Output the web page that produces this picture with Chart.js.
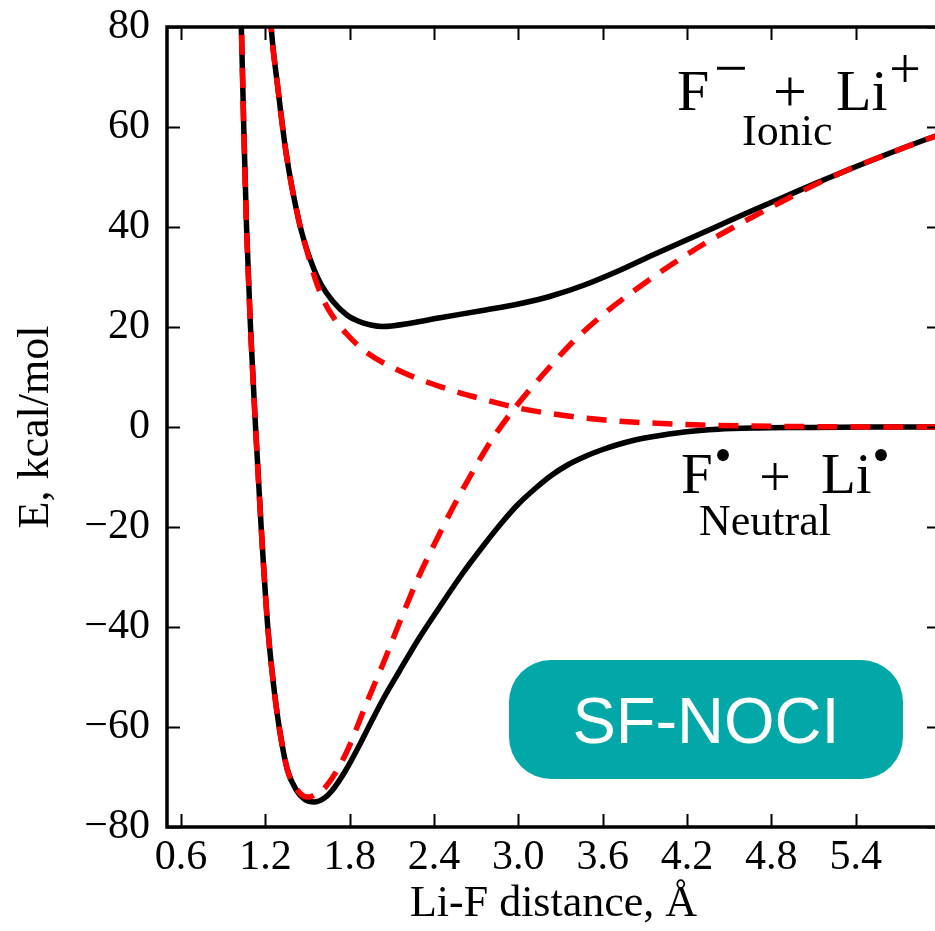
<!DOCTYPE html>
<html>
<head>
<meta charset="utf-8">
<script src="https://cdn.jsdelivr.net/npm/chart.js@4.4.1/dist/chart.umd.min.js"></script>
<style>
html,body{margin:0;padding:0;background:#fff;overflow:hidden;}
canvas{display:block;}
</style>
</head>
<body>
<canvas id="c" width="945" height="931"></canvas>
<script>
// ---- Data ----
// Adiabatic ground state (black, solid)
const rGround = [1.022,1.029,1.046,1.066,1.094,1.13,1.17,1.217,1.26,1.298,1.357,1.42,1.48,1.548,1.62,1.678,1.773,1.87,1.96,2.05,2.15,2.29,2.433,2.6,2.766,2.88,3.0,3.12,3.234,3.35,3.474,3.6,3.71,3.83,3.94,4.18,4.42,4.7,5.0,5.5,6.0];
const eGround = [85,80,60,40,20,0,-20,-40,-52,-60,-68.6,-72.6,-74.5,-75,-74.2,-72.6,-68.6,-63.6,-58.6,-53.8,-49,-42.4,-36.3,-29.4,-23.2,-19.2,-15.4,-12.3,-9.7,-7.6,-5.9,-4.5,-3.5,-2.6,-2,-1,-0.45,-0.2,-0.1,0,0];
// Adiabatic excited state (black, solid)
const rExcited = [1.235,1.241,1.288,1.348,1.437,1.489,1.548,1.595,1.678,1.78,1.867,1.95,2.03,2.24,2.433,2.766,3.0,3.234,3.47,3.71,3.94,4.18,4.42,4.65,4.89,5.12,5.36,5.6,5.88,6.0];
const eExcited = [83,80,68,54.7,41.4,36,31.4,28.6,25.2,22.4,21.1,20.4,20.1,20.8,21.8,23.4,24.6,26.2,28.4,31.2,34.2,37.2,40.2,43.1,46,48.8,51.6,54.3,57.3,58.5];
// Diabatic ionic state F- + Li+ (red, dashed)
const rIonic = [1.022,1.029,1.046,1.066,1.094,1.13,1.17,1.217,1.26,1.298,1.357,1.42,1.47,1.51,1.56,1.631,1.775,1.916,2.06,2.17,2.29,2.41,2.525,2.67,2.81,2.98,3.16,3.38,3.616,3.85,4.085,4.32,4.56,4.89,5.12,5.36,5.6,5.88,6.0];
const eIonic = [85,80,60,40,20,0,-20,-40,-52,-60,-68.6,-72.3,-73.8,-74,-73.4,-71.9,-65.2,-55.5,-45.8,-38,-30,-23,-16.6,-9.2,-2.6,4,10,16.8,22.8,27.8,32.4,36.6,40.4,45.3,48.6,51.6,54.3,57.3,58.5];
// Diabatic neutral state F. + Li. (red, dashed)
const rNeutral = [1.235,1.241,1.288,1.348,1.437,1.49,1.555,1.62,1.70,1.775,1.916,2.15,2.41,2.717,3.0,3.3,3.616,3.94,4.3,4.65,5.2,6.0];
const eNeutral = [83,80,68,54.7,41.4,35.8,29.6,25,21.3,18.7,15,11.3,8.4,5.8,3.8,2.4,1.4,0.8,0.4,0.2,0.05,0];

// Axis ticks
const xTickValues = [0.6,1.2,1.8,2.4,3.0,3.6,4.2,4.8,5.4];
const xTickLabels = ['0.6','1.2','1.8','2.4','3.0','3.6','4.2','4.8','5.4'];
const yTickValues = [-80,-60,-40,-20,0,20,40,60,80];
const yTickLabels = ['\u221280','\u221260','\u221240','\u221220','0','20','40','60','80'];

const toXY = (xs, ys) => xs.map((x, i) => ({x: x, y: ys[i]}));

const serif = '"Liberation Serif", "DejaVu Serif", serif';

const framePlugin = {
  id: 'frame',
  afterDatasetsDraw(chart) {
    const {ctx, chartArea: a, scales: {x, y}} = chart;
    ctx.save();
    ctx.strokeStyle = '#000';
    ctx.lineWidth = 2;
    const tl = 13;
    ctx.beginPath();
    xTickValues.forEach(v => {
      const px = Math.round(x.getPixelForValue(v)) + 0.5;
      ctx.moveTo(px, a.bottom); ctx.lineTo(px, a.bottom - tl);
      ctx.moveTo(px, a.top); ctx.lineTo(px, a.top + tl);
    });
    yTickValues.forEach(v => {
      const py = Math.round(y.getPixelForValue(v)) + 0.5;
      ctx.moveTo(a.left, py); ctx.lineTo(a.left + tl, py);
      ctx.moveTo(a.right, py); ctx.lineTo(a.right - tl, py);
    });
    ctx.stroke();
    ctx.lineWidth = 3.5;
    ctx.strokeRect(a.left, a.top, a.right - a.left, a.bottom - a.top);

    // Annotations
    ctx.fillStyle = '#000';
    ctx.textBaseline = 'alphabetic';
    ctx.textAlign = 'left';
    ctx.font = '58px ' + serif;
    ctx.fillText('F', 677, 110);
    ctx.fillText('Li', 836, 110);
    ctx.textAlign = 'center';
    ctx.font = '60px ' + serif;
    ctx.fillText('\u2212', 731, 88);
    ctx.fillText('+', 790, 111);
    ctx.font = '56px ' + serif;
    ctx.fillText('+', 905, 88);
    ctx.textAlign = 'left';
    ctx.font = '44px ' + serif;
    ctx.fillText('Ionic', 742, 145);

    ctx.font = '57px ' + serif;
    ctx.fillText('F', 681, 493);
    ctx.fillText('Li', 821, 493);
    ctx.textAlign = 'center';
    ctx.font = '56px ' + serif;
    ctx.fillText('+', 775, 496);
    ctx.font = '50px ' + serif;
    ctx.textBaseline = 'middle';
    ctx.fillText('\u2022', 723, 459);
    ctx.fillText('\u2022', 881, 459);
    ctx.textBaseline = 'alphabetic';
    ctx.textAlign = 'left';
    ctx.font = '44px ' + serif;
    ctx.fillText('Neutral', 699, 535);

    // SF-NOCI badge
    ctx.fillStyle = '#02A8A8';
    ctx.beginPath();
    ctx.roundRect(509, 660, 394, 119, 42);
    ctx.fill();
    ctx.fillStyle = '#fff';
    ctx.textAlign = 'center';
    ctx.textBaseline = 'alphabetic';
    ctx.font = '65px "Liberation Sans", Arial, sans-serif';
    ctx.fillText('SF-NOCI', 706, 743);
    ctx.restore();
  }
};

const lineBase = {
  pointRadius: 0,
  pointHoverRadius: 0,
  fill: false,
  borderWidth: 5.5,
  cubicInterpolationMode: 'monotone',
  borderCapStyle: 'butt',
  borderJoinStyle: 'round'
};

new Chart(document.getElementById('c'), {
  type: 'line',
  data: {
    datasets: [
      Object.assign({}, lineBase, {label: 'Ionic (diabatic)', data: toXY(rIonic, eIonic), borderColor: '#FF0000', borderDash: [20, 13]}),
      Object.assign({}, lineBase, {label: 'Neutral (diabatic)', data: toXY(rNeutral, eNeutral), borderColor: '#FF0000', borderDash: [20, 13]}),
      Object.assign({}, lineBase, {label: 'Ground', data: toXY(rGround, eGround), borderColor: '#000000'}),
      Object.assign({}, lineBase, {label: 'Excited', data: toXY(rExcited, eExcited), borderColor: '#000000'})
    ]
  },
  options: {
    responsive: false,
    animation: false,
    devicePixelRatio: 1,
    layout: {padding: {top: 27, right: 5, left: 0, bottom: 0}},
    plugins: {legend: {display: false}, tooltip: {enabled: false}},
    scales: {
      x: {
        type: 'linear',
        min: 0.5, max: 6.0,
        grid: {display: false, drawTicks: false},
        border: {display: false},
        afterBuildTicks: s => { s.ticks = xTickValues.map(v => ({value: v})); },
        afterFit: s => { s.height = 104; s.paddingLeft = 0; s.paddingRight = 0; },
        ticks: {
          color: '#000', padding: 6, maxRotation: 0, autoSkip: false,
          font: {family: serif, size: 42},
          callback: (v, i) => xTickLabels[i]
        },
        title: {display: true, text: 'Li-F distance, \u00C5', color: '#000', font: {family: serif, size: 44}, padding: 0}
      },
      y: {
        type: 'linear',
        min: -80, max: 80,
        grid: {display: false, drawTicks: false},
        border: {display: false},
        afterBuildTicks: s => { s.ticks = yTickValues.map(v => ({value: v})); },
        afterFit: s => { s.width = 167; s.paddingTop = 0; s.paddingBottom = 0; },
        ticks: {
          color: '#000', padding: 17, autoSkip: false,
          font: {family: serif, size: 42},
          callback: (v, i) => yTickLabels[i]
        },
        title: {display: true, text: 'E, kcal/mol', color: '#000', font: {family: serif, size: 44}, padding: {top: 10, bottom: 0}}
      }
    }
  },
  plugins: [framePlugin]
});
</script>
</body>
</html>
